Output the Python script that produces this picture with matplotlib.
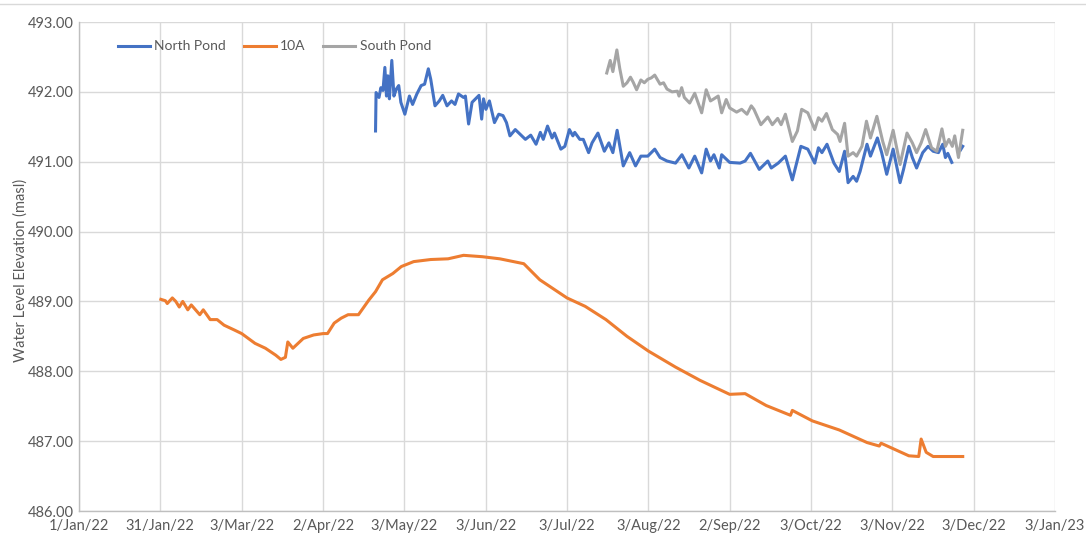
import matplotlib
matplotlib.use("Agg")
import matplotlib.pyplot as plt
import numpy as np

# x values are days since 1 Jan 2022
tick_days = [0, 30.5, 61, 91.5, 122, 152.5, 183, 213.5, 244, 274.5, 305, 335.5, 366]
tick_labels = ["1/Jan/22", "31/Jan/22", "3/Mar/22", "2/Apr/22", "3/May/22", "3/Jun/22",
               "3/Jul/22", "3/Aug/22", "2/Sep/22", "3/Oct/22", "3/Nov/22", "3/Dec/22", "3/Jan/23"]
y_ticks = [486, 487, 488, 489, 490, 491, 492, 493]

a10_days = [30.7, 32.4, 33.1, 35.0, 36.3, 37.6, 38.9, 40.8, 42.1, 45.3, 46.6, 49.2, 51.8, 54.4,
            58.3, 61.0, 66.0, 69.9, 73.8, 75.7, 77.4, 78.3, 80.2, 84.1, 88.0, 91.6, 93.2, 95.7,
            98.3, 100.9, 104.8, 108.7, 111.2, 113.8, 117.7, 120.9, 125.5, 131.9, 138.4, 144.2,
            151.3, 157.8, 166.8, 172.8, 183.0, 189.8, 197.6, 205.5, 213.5, 223.7, 232.9, 244.0,
            249.8, 257.7, 266.8, 267.5, 275.0, 285.1, 295.5, 300.1, 300.8, 306.0, 311.2, 314.9,
            315.8, 317.7, 320.3, 331.4]
a10_vals = [489.03, 489.01, 488.97, 489.05, 489.00, 488.92, 489.00, 488.88, 488.95, 488.81,
            488.88, 488.74, 488.74, 488.66, 488.59, 488.54, 488.40, 488.33, 488.23, 488.17,
            488.20, 488.42, 488.33, 488.47, 488.52, 488.54, 488.54, 488.69, 488.76, 488.81,
            488.81, 489.02, 489.14, 489.31, 489.40, 489.50, 489.57, 489.60, 489.61, 489.66,
            489.64, 489.61, 489.54, 489.31, 489.05, 488.93, 488.74, 488.50, 488.29, 488.06,
            487.87, 487.67, 487.68, 487.51, 487.37, 487.44, 487.29, 487.16, 486.98, 486.93,
            486.97, 486.88, 486.79, 486.78, 487.03, 486.84, 486.78, 486.78]

north_days = [111.2, 111.4, 112.5, 113.2, 114.0, 114.7, 115.3, 115.8, 116.4, 117.3, 118.1, 119.0,
              119.9, 120.7, 122.2, 123.9, 125.1, 126.7, 128.3, 129.6, 131.0, 131.9, 133.5, 135.1,
              136.4, 138.0, 139.7, 141.0, 142.3, 144.2, 144.9, 146.1, 147.4, 148.7, 150.0, 151.0,
              151.7, 152.6, 153.9, 155.8, 157.4, 159.0, 160.3, 161.6, 163.6, 165.5, 167.4, 169.4,
              171.4, 173.0, 174.1, 175.7, 177.4, 178.3, 180.7, 182.2, 183.9, 185.2, 185.9, 187.8,
              189.1, 191.1, 192.4, 194.6, 197.0, 198.7, 200.2, 201.8, 204.1, 206.5, 208.7, 210.7,
              213.3, 215.9, 217.9, 220.5, 223.7, 226.1, 228.7, 230.9, 233.5, 235.2, 236.8, 238.1,
              240.1, 241.0, 244.0, 247.9, 249.8, 251.8, 255.1, 258.3, 259.6, 262.2, 264.9, 267.5,
              270.7, 273.3, 275.9, 277.3, 278.6, 280.5, 283.1, 285.1, 287.1, 288.4, 290.3, 291.6,
              292.9, 295.5, 296.8, 299.4, 301.0, 302.9, 305.3, 307.9, 309.2, 311.2, 312.5, 314.1,
              316.4, 318.4, 320.3, 322.3, 323.9, 324.9, 325.8, 327.3, 329.0, 330.6, 331.4]
north_vals = [491.44, 491.99, 491.92, 492.06, 492.02, 492.35, 491.94, 492.23, 491.90, 492.45,
              491.94, 492.04, 492.09, 491.85, 491.68, 491.94, 491.82, 491.97, 492.09, 492.11,
              492.33, 492.18, 491.80, 491.87, 491.95, 491.80, 491.87, 491.82, 491.97, 491.92,
              491.94, 491.54, 491.85, 491.90, 491.95, 491.61, 491.90, 491.75, 491.87, 491.56,
              491.68, 491.66, 491.56, 491.37, 491.46, 491.39, 491.32, 491.38, 491.25, 491.42,
              491.32, 491.51, 491.34, 491.41, 491.18, 491.22, 491.46, 491.37, 491.42, 491.32,
              491.32, 491.13, 491.27, 491.41, 491.15, 491.27, 491.13, 491.45, 490.94, 491.13,
              490.94, 491.08, 491.08, 491.18, 491.06, 491.01, 490.98, 491.10, 490.91, 491.08,
              490.84, 491.18, 491.01, 491.10, 490.91, 491.10, 490.99, 490.98, 491.01, 491.12,
              490.89, 491.01, 490.91, 490.98, 491.08, 490.74, 491.22, 491.18, 490.98, 491.20,
              491.13, 491.25, 490.98, 490.86, 491.15, 490.70, 490.79, 490.72, 490.86, 491.25,
              491.08, 491.34, 491.13, 490.82, 491.18, 490.70, 490.89, 491.22, 491.06, 490.91,
              491.13, 491.22, 491.15, 491.13, 491.25, 491.06, 491.12, 490.99, np.nan, 491.17,
              491.22]

south_days = [197.9, 199.2, 200.2, 201.7, 202.8, 204.1, 205.5, 206.8, 207.8, 209.1, 210.7, 212.0,
              213.3, 214.6, 215.9, 217.9, 219.2, 220.5, 222.4, 224.4, 225.0, 226.0, 227.0, 229.0,
              230.9, 233.5, 235.2, 236.8, 238.1, 239.7, 241.0, 242.7, 244.0, 246.6, 248.5, 250.5,
              252.1, 253.1, 255.7, 258.3, 260.0, 262.0, 263.3, 264.9, 267.5, 269.4, 271.0, 273.3,
              275.9, 277.3, 278.6, 280.3, 282.5, 284.5, 285.4, 287.1, 288.4, 290.3, 291.6, 293.6,
              295.3, 296.8, 299.2, 301.4, 302.9, 305.3, 307.9, 310.5, 312.5, 314.1, 315.8, 317.5,
              319.7, 321.7, 323.6, 324.9, 326.2, 327.5, 328.4, 329.8, 331.4]
south_vals = [492.27, 492.45, 492.29, 492.60, 492.33, 492.08, 492.13, 492.21, 492.14, 492.03,
              492.17, 492.13, 492.18, 492.20, 492.24, 492.11, 492.13, 492.04, 492.00, 492.01,
              491.94, 492.06, 491.92, 491.84, 491.98, 491.70, 492.03, 491.87, 491.90, 491.94,
              491.70, 491.89, 491.77, 491.71, 491.75, 491.68, 491.80, 491.75, 491.53, 491.64,
              491.53, 491.62, 491.53, 491.68, 491.29, 491.44, 491.75, 491.70, 491.46, 491.63,
              491.58, 491.69, 491.46, 491.39, 491.29, 491.55, 491.08, 491.13, 491.08, 491.22,
              491.58, 491.34, 491.65, 491.29, 491.10, 491.45, 490.96, 491.41, 491.27, 491.13,
              491.27, 491.46, 491.20, 491.15, 491.47, 491.22, 491.32, 491.22, 491.37, 491.06,
              491.45]

txt = "#595959"
plt.rcParams['font.family'] = ['Lato', 'DejaVu Sans']

fig = plt.figure(figsize=(10.86, 5.38), dpi=100)
ax = fig.add_axes([79 / 1086, 1 - 511 / 538, (1055 - 79) / 1086, (511 - 22) / 538])

lw = 2.2
ax.plot(north_days, north_vals, color="#4472C4", lw=lw, label="North Pond", zorder=3)
ax.plot(a10_days, a10_vals, color="#ED7D31", lw=lw, label="10A", zorder=3)
ax.plot(south_days, south_vals, color="#A5A5A5", lw=lw, label="South Pond", zorder=3)

ax.set_xlim(tick_days[0], tick_days[-1])
ax.set_ylim(486, 493)
ax.set_xticks(tick_days)
ax.set_xticklabels(tick_labels)
ax.set_yticks(y_ticks)
ax.set_yticklabels([f"{v:.2f}" for v in y_ticks])
ax.tick_params(axis="both", length=0, labelsize=10.5, colors=txt, pad=6)
ax.tick_params(axis="y", pad=4)
ax.grid(True, color="#D9D9D9", lw=1.0, zorder=0)
for s in ["top", "right"]:
    ax.spines[s].set_visible(False)
for s in ["left", "bottom"]:
    ax.spines[s].set_color("#BFBFBF")
    ax.spines[s].set_linewidth(1.0)

leg = ax.legend(loc="upper left", bbox_to_anchor=(0.027, 0.988), ncol=3, frameon=False,
                fontsize=10, handlelength=2.3, columnspacing=1.3, handletextpad=0.3)
for t in leg.get_texts():
    t.set_color(txt)

fig.text(21 / 1086, 1 - 270 / 538, "Water Level Elevation (masl)", rotation=90,
         ha="center", va="center", fontsize=10.5, color=txt)
fig.add_artist(plt.Line2D([0, 1], [1 - 4 / 538, 1 - 4 / 538], color="#D9D9D9", lw=1.0))

fig.savefig("out.png", dpi=100)
